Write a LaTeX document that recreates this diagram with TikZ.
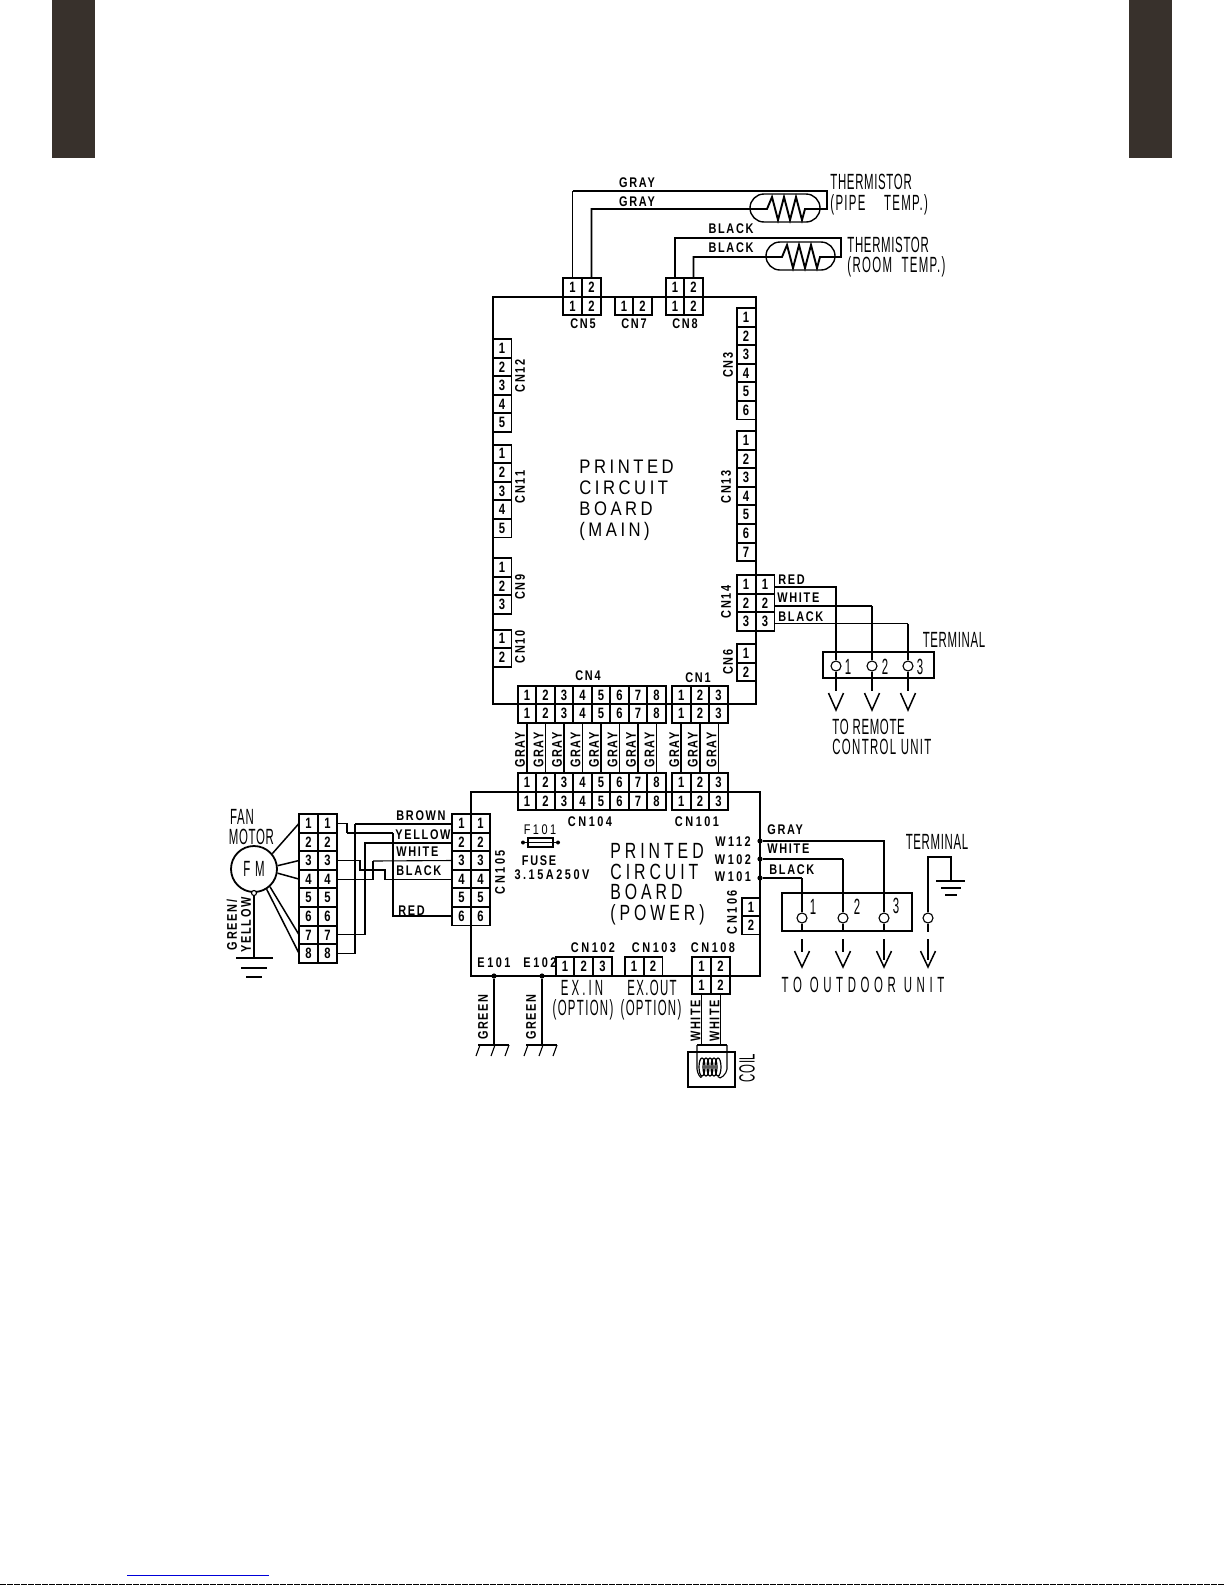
\documentclass[tikz,border=0pt]{standalone}
\usepackage{fontspec}
\setmainfont{Liberation Sans}
\newfontfamily\labelfont[LetterSpace=12,FakeStretch=0.78]{Liberation Sans}
\newfontfamily\labelwfont[LetterSpace=18,FakeStretch=0.78]{Liberation Sans}
\newfontfamily\pinfont[FakeStretch=0.75]{Liberation Sans}
\newfontfamily\tallfont[LetterSpace=3,FakeStretch=0.52]{Liberation Sans}
\newfontfamily\tallwfont[LetterSpace=6,FakeStretch=0.52]{Liberation Sans}
\newfontfamily\tallxfont[LetterSpace=14,FakeStretch=0.52]{Liberation Sans}
\newfontfamily\widefont[LetterSpace=21,FakeStretch=0.52]{Liberation Sans}
\newfontfamily\mainboardfont[LetterSpace=18,FakeStretch=0.85]{Liberation Sans}
\newfontfamily\powerboardfont[LetterSpace=18,FakeStretch=0.72]{Liberation Sans}
\usetikzlibrary{shapes.misc,shapes.geometric}
\definecolor{barcol}{HTML}{38312C}

\begin{document}
\begin{tikzpicture}[x=0.5pt,y=-0.5pt]
    %
    % `pin' is one numbered cell of a connector.
    % `wire' and `thinwire' are the two line weights of the harness.
    % `lab' is the small lettering, `tall' the narrow lettering.
    \tikzstyle{pin} = [draw,line width=0.9pt,minimum width=9.4pt,minimum height=9.2pt,inner sep=0pt,outer sep=0pt,font=\pinfont\bfseries\fontsize{7.5}{8}\selectfont]
    \tikzstyle{wire} = [line width=0.95pt]
    \tikzstyle{thinwire} = [line width=0.55pt]
    \tikzstyle{leadwire} = [line width=0.75pt]
    \tikzstyle{board} = [line width=1.05pt]
    \tikzstyle{lab} = [inner sep=0pt,font=\labelfont\bfseries\fontsize{7}{8}\selectfont]
    \tikzstyle{labw} = [inner sep=0pt,font=\labelwfont\bfseries\fontsize{7}{8}\selectfont]
    \tikzstyle{tall} = [inner sep=0pt,font=\tallfont\fontsize{11}{12}\selectfont]
    \tikzstyle{tallw} = [inner sep=0pt,font=\tallwfont\fontsize{11}{12}\selectfont]
    \tikzstyle{tallx} = [inner sep=0pt,font=\tallxfont\fontsize{11}{12}\selectfont]
    \tikzstyle{screw} = [draw,fill=white,shape=circle,line width=0.55pt,minimum size=5pt,inner sep=0pt]
    \tikzstyle{jdot} = [fill,shape=circle,minimum size=2.6pt,inner sep=0pt]
    \tikzstyle{capsule} = [draw,shape=rounded rectangle,line width=0.7pt,inner sep=0pt]
    \tikzstyle{turn} = [draw,shape=ellipse,line width=0.6pt,minimum width=3pt,minimum height=9pt,inner sep=0pt]
    %
    \useasboundingbox (0,0) rectangle (1225,1585);
    %
    % Page marks
    \fill[barcol] (52,0) rectangle (95,158);
    \fill[barcol] (1129,0) rectangle (1172,158);
    \coordinate (linkl) at (127,1575);
    \coordinate (linkr) at (269,1575);
    \draw[blue!85!black,line width=0.5pt] (linkl) -- (linkr);
    \coordinate (stripl) at (0,1584.5);
    \coordinate (stripr) at (1225,1584.5);
    \draw[line width=0.5pt,dash pattern=on 3pt off 0.5pt] (stripl) -- (stripr);
    %
    % Boards
    \coordinate (mainnw) at (493,297);
    \coordinate (mainse) at (756,704);
    \coordinate (pownw) at (471,792);
    \coordinate (powse) at (760,976);
    \draw[board] (mainnw) rectangle (mainse);
    \draw[board] (pownw) rectangle (powse);
    %
    % Connectors on the main board
    \foreach \n in {1,2} {
        \node[pin] (cn5a\n) at ({553.5+19*\n},287.5) {\n};
        \node[pin] (cn5b\n) at ({553.5+19*\n},306) {\n};
        \node[pin] (cn7\n) at ({605.5+18.5*\n},306) {\n};
        \node[pin] (cn8a\n) at ({656.5+18.5*\n},287.5) {\n};
        \node[pin] (cn8b\n) at ({656.5+18.5*\n},306) {\n};
        \node[pin] (cn10\n) at (502,{620.2+18.6*\n}) {\n};
        \node[pin] (cn6\n) at (746,{634.7+18.6*\n}) {\n};
    }
    \foreach \n in {1,...,5} {
        \node[pin] (cn12\n) at (502,{329.7+18.6*\n}) {\n};
        \node[pin] (cn11\n) at (502,{435.2+18.6*\n}) {\n};
    }
    \foreach \n in {1,2,3} {
        \node[pin] (cn9\n) at (502,{548.7+18.6*\n}) {\n};
        \node[pin] (cn14a\n) at (746,{565.7+18.6*\n}) {\n};
        \node[pin] (cn14b\n) at (765,{565.7+18.6*\n}) {\n};
    }
    \foreach \n in {1,...,6} \node[pin] (cn3\n) at (746,{298.7+18.6*\n}) {\n};
    \foreach \n in {1,...,7} \node[pin] (cn13\n) at (746,{421.7+18.6*\n}) {\n};
    %
    % Board to board, with the gray harness
    \foreach \n in {1,...,8} {
        \node[pin] (cn4a\n) at ({508.5+18.5*\n},695) {\n};
        \node[pin] (cn4b\n) at ({508.5+18.5*\n},713.5) {\n};
        \node[pin] (cn104a\n) at ({508.5+18.5*\n},782.5) {\n};
        \node[pin] (cn104b\n) at ({508.5+18.5*\n},801) {\n};
        \draw[wire] (cn4b\n.south) -- (cn104a\n.north);
        \node[lab,rotate=90] (gray4\n) at ({501.5+18.5*\n},750) {GRAY};
    }
    \foreach \n in {1,2,3} {
        \node[pin] (cn1a\n) at ({662.7+18.6*\n},695) {\n};
        \node[pin] (cn1b\n) at ({662.7+18.6*\n},713.5) {\n};
        \node[pin] (cn101a\n) at ({662.7+18.6*\n},782.5) {\n};
        \node[pin] (cn101b\n) at ({662.7+18.6*\n},801) {\n};
        \draw[wire] (cn1b\n.south) -- (cn101a\n.north);
        \node[lab,rotate=90] (gray1\n) at ({655.7+18.6*\n},750) {GRAY};
    }
    %
    % Connectors on the power board
    \foreach \n in {1,...,6} {
        \node[pin] (cn105a\n) at (461.5,{804.7+18.6*\n}) {\n};
        \node[pin] (cn105b\n) at (480.5,{804.7+18.6*\n}) {\n};
    }
    \foreach \n in {1,2} {
        \node[pin] (cn106\n) at (751,{888.7+18.3*\n}) {\n};
        \node[pin] (cn103\n) at ({615+19*\n},966.5) {\n};
        \node[pin] (cn108a\n) at ({682.5+19*\n},966.5) {\n};
        \node[pin] (cn108b\n) at ({682.5+19*\n},985) {\n};
    }
    \foreach \n in {1,2,3} \node[pin] (cn102\n) at ({546.3+18.7*\n},966.5) {\n};
    %
    % Connector labels
    \node[lab] (cn5lab) at (583,324) {CN5};
    \node[lab] (cn7lab) at (634,324) {CN7};
    \node[lab] (cn8lab) at (685,324) {CN8};
    \node[lab] (cn4lab) at (588,676) {CN4};
    \node[lab] (cn1lab) at (698,678) {CN1};
    \node[labw] (cn104lab) at (590,822) {CN104};
    \node[labw] (cn101lab) at (697,822) {CN101};
    \node[lab,rotate=90] (cn12lab) at (520,376) {CN12};
    \node[lab,rotate=90] (cn11lab) at (520,487) {CN11};
    \node[lab,rotate=90] (cn9lab) at (520,587) {CN9};
    \node[lab,rotate=90] (cn10lab) at (520,647) {CN10};
    \node[lab,rotate=90] (cn3lab) at (728,365) {CN3};
    \node[lab,rotate=90] (cn13lab) at (726,487) {CN13};
    \node[lab,rotate=90] (cn14lab) at (726,602) {CN14};
    \node[lab,rotate=90] (cn6lab) at (728,662) {CN6};
    \node[labw,rotate=90] (cn105lab) at (500,872) {CN105};
    \node[labw,rotate=90] (cn106lab) at (732,912) {CN106};
    \node[labw] (cn102lab) at (593,948) {CN102};
    \node[labw] (cn103lab) at (654,948) {CN103};
    \node[labw] (cn108lab) at (713,948) {CN108};
    %
    % Board names
    \node[anchor=west,inner sep=0pt,align=left,font=\mainboardfont\fontsize{9.8}{10.5}\selectfont] (mainname) at (579,500) {PRINTED\\CIRCUIT\\BOARD\\(MAIN)};
    \node[anchor=west,inner sep=0pt,align=left,font=\powerboardfont\fontsize{11}{10.3}\selectfont] (powname) at (610,884) {PRINTED\\CIRCUIT\\BOARD\\(POWER)};
    %
    % Thermistors
    \node[capsule,minimum width=35pt,minimum height=14pt] (thpipe) at (785,208) {};
    \node[capsule,minimum width=34.5pt,minimum height=14pt] (throom) at (800.5,256) {};
    \coordinate (pipecorn) at (827,191);
    \coordinate (pipezig) at (767,209);
    \coordinate (roomcorn) at (841,238);
    \coordinate (roomzig) at (782,257);
    \draw[thinwire] (cn5a1.north) -- (cn5a1.north |- pipecorn);
    \draw[wire] (cn5a1.north |- pipecorn) -- (pipecorn) -- ++(0,18) -- ++(-7,0);
    \draw[wire] (cn5a2.north) |- (pipezig) -- ++(5,-12) -- ++(6,23) -- ++(6,-23) -- ++(6,23) -- ++(6,-23) -- ++(6,23) -- ++(3,-11) -- ++(15,0);
    \draw[wire] (cn8a1.north) |- (roomcorn) -- ++(0,19) -- ++(-6,0);
    \draw[wire] (cn8a2.north) |- (roomzig) -- ++(5,-12) -- ++(6,23) -- ++(6,-23) -- ++(6,23) -- ++(6,-23) -- ++(6,23) -- ++(3,-11) -- ++(15,0);
    \node[lab] (gray1lab) at (637,183) {GRAY};
    \node[lab] (gray2lab) at (637,202) {GRAY};
    \node[lab] (black1lab) at (731,229) {BLACK};
    \node[lab] (black2lab) at (731,248) {BLACK};
    \node[tall,anchor=west] (th1a) at (830,182) {THERMISTOR};
    \node[tallw,anchor=west] (th1b) at (830,204.5) {(PIPE\hspace{7pt} TEMP.)};
    \node[tall,anchor=west] (th2a) at (847,244.5) {THERMISTOR};
    \node[tallw,anchor=west] (th2b) at (847,267) {(ROOM\hspace{2.5pt} TEMP.)};
    %
    % Remote control terminal
    \coordinate (rcnw) at (823,652);
    \coordinate (rcse) at (934,678);
    \draw[thinwire] (rcnw) rectangle (rcse);
    \draw[line width=0.9pt] (rcse |- rcnw) -- (rcse) -- ++(-5,0);
    \node[screw] (rc1) at (836,666) {};
    \node[screw] (rc2) at (872,666) {};
    \node[screw] (rc3) at (908,666) {};
    \draw[wire] ([yshift=-1.5pt]cn14b1.east) -| (rc1.north);
    \draw[wire] ([yshift=-1.5pt]cn14b2.east) -- ([yshift=-1.5pt]cn14b2.east -| rc2.north);
    \draw[thinwire] ([yshift=-1.5pt]cn14b2.east -| rc2.north) -- (rc2.north);
    \draw[wire] ([yshift=-1pt]cn14b3.east) -- ([yshift=-1pt]cn14b3.east -| rc3.north);
    \draw[thinwire] ([yshift=-1pt]cn14b3.east -| rc3.north) -- (rc3.north);
    \coordinate (rcv1) at (836,710);
    \coordinate (rcv2) at (872,710);
    \coordinate (rcv3) at (908,710);
    \draw[wire] (rc1.south) -- ++(0,19);
    \draw[thinwire] (rc2.south) -- ++(0,19);
    \draw[thinwire] (rc3.south) -- ++(0,19);
    \foreach \n in {1,2,3} \draw[leadwire] ([shift={(-7.5,-17)}]rcv\n) -- (rcv\n) -- ([shift={(7.5,-17)}]rcv\n);
    \node[lab,anchor=west] (redrc) at (778,580) {RED};
    \node[lab,anchor=west] (whiterc) at (777,598) {WHITE};
    \node[lab,anchor=west] (blackrc) at (778,617) {BLACK};
    \node[tall] (rcn1) at (848,667) {1};
    \node[tall] (rcn2) at (885,667) {2};
    \node[tall] (rcn3) at (920,667) {3};
    \node[tall] (rcterm) at (954,640) {TERMINAL};
    \node[tall,anchor=west] (rcto1) at (832,727) {TO REMOTE};
    \node[tallw,anchor=west] (rcto2) at (832,747) {CONTROL UNIT};
    %
    % Outdoor terminal
    \coordinate (ounw) at (782,893);
    \coordinate (ouse) at (912,931);
    \draw[thinwire] (ounw) rectangle (ouse);
    \draw[line width=1pt] (ounw) |- (ouse) -- ++(0,-38);
    \node[jdot] (w112) at (760,841) {};
    \node[jdot] (w102) at (760,859) {};
    \node[jdot] (w101) at (760,878) {};
    \node[screw] (ou1) at (802,918) {};
    \node[screw] (ou2) at (843,918) {};
    \node[screw] (ou3) at (884,918) {};
    \node[screw] (ou4) at (928,918) {};
    \draw[wire] (w112) -| (ou3.north);
    \draw[wire] (w102) -- (w102 -| ou2);
    \draw[thinwire] (w102 -| ou2) -- (ou2.north);
    \draw[wire] (w101) -- (w101 -| ou1);
    \draw[thinwire] (w101 -| ou1) -- (ou1.north);
    \foreach \n in {1,2,3} \draw[thinwire] (ou\n.south) -- ++(0,8);
    \draw[wire] (ou4.south) -- ++(0,8);
    \coordinate (ouv1) at (802,967);
    \coordinate (ouv2) at (843,967);
    \coordinate (ouv3) at (884,967);
    \coordinate (ouv4) at (928,967);
    \draw[thinwire] (ouv1) ++(0,-28) -- ++(0,13);
    \draw[thinwire] (ouv2) ++(0,-28) -- ++(0,13);
    \draw[wire] (ouv3) ++(0,-28) -- ++(0,21);
    \draw[wire] (ouv4) ++(0,-28) -- ++(0,21);
    \foreach \n in {1,2,3,4} \draw[leadwire] ([shift={(-7.5,-16)}]ouv\n) -- (ouv\n) -- ([shift={(7.5,-16)}]ouv\n);
    % Earth of the outdoor terminal
    \coordinate (earthtop) at (928,857);
    \coordinate (earthcorn) at (951,857);
    \coordinate (earth1) at (951,881);
    \draw[thinwire] (ou4.north) -- (earthtop) -- (earthcorn) -- (earth1);
    \draw[thinwire] ([xshift=-7.5pt]earth1) -- ([xshift=7pt]earth1);
    \draw[thinwire] ([shift={(-10,7)}]earth1) -- ([shift={(10,7)}]earth1);
    \draw[thinwire] ([shift={(-6,14)}]earth1) -- ([shift={(6,14)}]earth1);
    \node[labw] (w112lab) at (733,842) {W112};
    \node[labw] (w102lab) at (733,860) {W102};
    \node[labw] (w101lab) at (733,877) {W101};
    \node[lab,anchor=west] (grayou) at (767,830) {GRAY};
    \node[lab,anchor=west] (whiteou) at (767,849) {WHITE};
    \node[lab,anchor=west] (blackou) at (769,870) {BLACK};
    \node[tall] (oun1) at (813,907) {1};
    \node[tall] (oun2) at (857,907) {2};
    \node[tall] (oun3) at (896,906) {3};
    \node[tall] (outerm) at (937,842) {TERMINAL};
    \node[inner sep=0pt,font=\widefont\fontsize{11}{12}\selectfont] (outo) at (863,985) {TO OUTDOOR UNIT};
    %
    % Fuse
    \node[draw,line width=0.7pt,minimum width=12.5pt,minimum height=4.5pt,inner sep=0pt] (fuse) at (540.5,842.5) {};
    \node[jdot,minimum size=2pt] (fusel) at (523,842.5) {};
    \node[jdot,minimum size=2pt] (fuser) at (558,842.5) {};
    \draw[thinwire] (fusel) -- (fuser);
    \node[labw,font=\labelwfont\fontsize{7}{8}\selectfont] (f101) at (540,830) {F101};
    \node[lab] (fuselab) at (539,861) {FUSE};
    \node[labw] (fuseval) at (552,875) {3.15A250V};
    %
    % Fan motor
    \foreach \n in {1,...,8} {
        \node[pin] (fma\n) at (308.5,{804.7+18.6*\n}) {\n};
        \node[pin] (fmb\n) at (327.5,{804.7+18.6*\n}) {\n};
    }
    \node[draw,shape=circle,line width=0.9pt,minimum size=23pt,inner sep=0pt,font=\widefont\fontsize{11}{12}\selectfont] (fm) at (254,869) {FM};
    \draw[leadwire] (fm.40) -- (fma1.west);
    \draw[leadwire] (fm.8) -- (fma3.west);
    \draw[leadwire] (fm.-10) -- (fma4.west);
    \draw[leadwire] (fm.-48) -- (fma7.west);
    \draw[leadwire] (fm.-58) -- (fma8.west);
    % Harness, crossing over between the two connectors
    \coordinate (redt1) at (347,833);
    \coordinate (redt2) at (393,833);
    \draw[thinwire] (fmb1.east) -| (redt1);
    \draw[wire] (redt1) -- (redt2);
    \draw[thinwire] (redt2) |- (cn105a6.west);
    \draw[wire] (redt2 |- cn105a6.west) -- (cn105a6.west);
    \coordinate (brownt) at (355,824);
    \draw[wire] (fmb8.east) -| (brownt);
    \draw[thinwire] (brownt) -- (brownt -| cn105a1.west);
    \coordinate (yellowt) at (365,843);
    \draw[thinwire] (fmb7.east) -| (yellowt);
    \draw[wire] (yellowt |- fmb7.east) -- (yellowt) -- (yellowt -| cn105a2.west);
    \coordinate (blackt1) at (360,870);
    \coordinate (blackt2) at (385,870);
    \draw[thinwire] (fmb3.east) -| (blackt1) -- (blackt2) |- (cn105a4.west);
    \coordinate (whitet) at (373,861);
    \draw[thinwire] (fmb4.east) -| (whitet);
    \draw[wire] (whitet |- fmb4.east) -- (whitet);
    \draw[thinwire] (whitet) -- (cn105a3.west);
    \node[lab,anchor=west] (brownlab) at (396,816) {BROWN};
    \node[lab,anchor=west] (yellowlab) at (395,835) {YELLOW};
    \node[lab,anchor=west] (whitelab) at (396,852) {WHITE};
    \node[lab,anchor=west] (blacklab) at (396,871) {BLACK};
    \node[lab,anchor=west] (redlab) at (398,911) {RED};
    \node[tall] (fanlab) at (242,817) {FAN};
    \node[tall] (motorlab) at (251.5,837) {MOTOR};
    % Motor earth
    \node[screw,minimum size=2.5pt] (fmearth) at (254,893) {};
    \coordinate (fme1) at (254,958);
    \draw[wire] (fmearth) -- (fme1);
    \draw[thinwire] ([xshift=-9pt]fme1) -- ([xshift=9.5pt]fme1);
    \draw[wire] ([shift={(-13,10)}]fme1) -- ([shift={(13,10)}]fme1);
    \draw[wire] ([shift={(-8,19)}]fme1) -- ([shift={(8,19)}]fme1);
    \node[lab,rotate=90] (gylab1) at (232,925) {GREEN/};
    \node[lab,rotate=90] (gylab2) at (246,925) {YELLOW};
    %
    % Chassis earths
    \node[jdot] (e101) at (494,976) {};
    \node[jdot] (e102) at (542,976) {};
    \coordinate (g101) at (494,1045);
    \coordinate (g102) at (542,1045);
    \draw[wire] (e101) -- (g101);
    \draw[wire] (e102) -- (g102);
    \foreach \n in {g101,g102} {
        \draw[thinwire] ([xshift=-8pt]\n) -- ([xshift=7.5pt]\n);
        \draw[thinwire] ([shift={(-14,0)}]\n) -- ++(-4,11);
        \draw[thinwire] ([shift={(1,0)}]\n) -- ++(-4,11);
        \draw[thinwire] ([shift={(15,0)}]\n) -- ++(-4,11);
    }
    \node[labw] (e101lab) at (494,963) {E101};
    \node[labw] (e102lab) at (540,963) {E102};
    \node[lab,rotate=90] (g101lab) at (483,1017) {GREEN};
    \node[lab,rotate=90] (g102lab) at (531,1017) {GREEN};
    \node[tallx] (exin) at (582,988) {EX.IN};
    \node[tallw] (exinb) at (583,1010) {(OPTION)};
    \node[tallw] (exout) at (652,988) {EX.OUT};
    \node[tallw] (exoutb) at (651,1010) {(OPTION)};
    %
    % Coil
    \coordinate (coilnw) at (688,1052);
    \coordinate (coilse) at (735,1087);
    \draw[thinwire] (coilnw) rectangle (coilse);
    \draw[line width=1pt] (coilnw) |- (coilse);
    \coordinate (coiltl) at (697,1045);
    \coordinate (coiltr) at (727,1045);
    \draw[wire] (cn108b1.south) -- (cn108b1.south |- coiltl);
    \draw[wire] (cn108b2.south) -- (cn108b2.south |- coiltr);
    \draw[thinwire] (coiltl) -- (coiltr);
    \node[turn] (coil1) at (702,1067) {};
    \node[turn] (coil2) at (706,1067) {};
    \node[turn] (coil3) at (710,1067) {};
    \node[turn] (coil4) at (714,1067) {};
    \node[turn] (coil5) at (718,1067) {};
    \draw[thinwire] (coiltl) -- ++(0,24) to[out=-90,in=-110] (coil1.south);
    \draw[thinwire] (coiltr) -- ++(0,24) to[out=-90,in=-70] (coil5.south);
    \node[lab,rotate=90] (w1lab) at (695.5,1021) {WHITE};
    \node[lab,rotate=90] (w2lab) at (714.5,1021) {WHITE};
    \node[tall,rotate=90] (coillab) at (747,1068) {COIL};
    %
\end{tikzpicture}
\end{document}
